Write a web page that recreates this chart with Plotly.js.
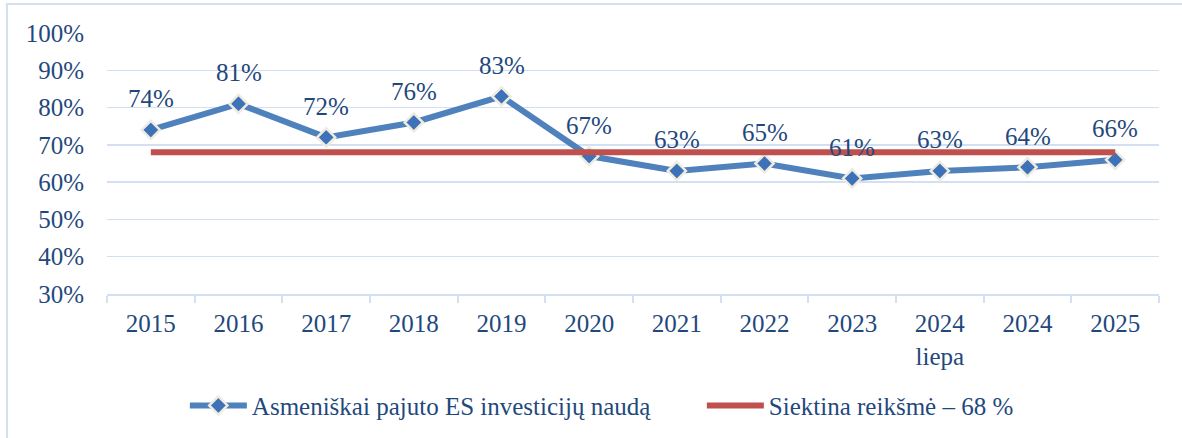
<!DOCTYPE html>
<html>
<head>
<meta charset="utf-8">
<script src="https://cdn.plot.ly/plotly-3.0.1.min.js"></script>
<style>
html,body{margin:0;padding:0;background:#fff;}
#chart{width:1182px;height:438px;}
</style>
</head>
<body>
<div id="chart"></div>
<script>
const categories = ["2015","2016","2017","2018","2019","2020","2021","2022","2023","2024<br>liepa","2024","2025"];
const feltValues = [0.74,0.81,0.72,0.76,0.83,0.67,0.63,0.65,0.61,0.63,0.64,0.66];
const targetValues = [0.68,0.68,0.68,0.68,0.68,0.68,0.68,0.68,0.68,0.68,0.68,0.68];
const labels = ["74%","81%","72%","76%","83%","67%","63%","65%","61%","63%","64%","66%"];
const seriesNames = ["Asmeniškai pajuto ES investicijų naudą","Siektina reikšmė – 68 %"];
const yTickVals = [0.3,0.4,0.5,0.6,0.7,0.8,0.9,1.0];

const FONT = "Liberation Serif, Cambria, serif";
const TXT = "#1f497d";
const idx = categories.map((c, i) => i);

const blue = {
  x: idx, y: feltValues, type: "scatter", mode: "lines+markers",
  name: seriesNames[0], legendrank: 1,
  line: {color: "#4f81bd", width: 6},
  marker: {symbol: "diamond", size: 14, color: "#3d72b8", line: {color: "#eeece1", width: 2.5}},
  hoverinfo: "skip"
};
const red = {
  x: idx, y: targetValues, type: "scatter", mode: "lines",
  name: seriesNames[1], legendrank: 2,
  line: {color: "#c0504d", width: 6},
  hoverinfo: "skip"
};
const data = [blue, red];

const annotations = idx.map(i => ({
  x: i, y: feltValues[i], xref: "x", yref: "y",
  text: labels[i], showarrow: false, yshift: 31, yanchor: "middle",
  font: {family: FONT, size: 25, color: TXT}
}));

const layout = {
  width: 1182, height: 438,
  margin: {l: 107, r: 23, t: 33, b: 144, autoexpand: false},
  paper_bgcolor: "#ffffff", plot_bgcolor: "#ffffff",
  font: {family: FONT, size: 25, color: TXT},
  showlegend: true,
  legend: {
    orientation: "h", x: 0.074, xanchor: "left", y: -0.34, yanchor: "top",
    font: {family: FONT, size: 25, color: TXT},
    traceorder: "normal", entrywidth: 445, entrywidthmode: "pixels", itemwidth: 57,
    bgcolor: "rgba(0,0,0,0)"
  },
  xaxis: {
    type: "linear", range: [-0.5, 11.5],
    tickmode: "array", tickvals: idx, ticktext: categories, ticks: "", ticklabelstandoff: 6,
    minor: {tickmode: "linear", tick0: -0.5, dtick: 1, ticks: "outside", ticklen: 7, tickcolor: "#d3e0f2", tickwidth: 2, showgrid: false},
    showline: true, linecolor: "#d3e0f2", linewidth: 2,
    showgrid: false, zeroline: false, tickangle: 0,
    tickfont: {family: FONT, size: 25, color: TXT},
    fixedrange: true
  },
  yaxis: {
    range: [0.3, 1.0], tickvals: yTickVals, tickformat: ".0%",
    showgrid: true, gridcolor: "#d3e0f2", gridwidth: 1.5,
    zeroline: false, showline: false, ticks: "", ticklabelstandoff: 22,
    tickfont: {family: FONT, size: 25, color: TXT},
    fixedrange: true
  },
  shapes: [{
    type: "rect", xref: "paper", yref: "paper",
    x0: -0.0951, x1: 1.06, y0: -0.6, y1: 1.111,
    line: {color: "#d3e0f2", width: 2}, fillcolor: "rgba(0,0,0,0)", layer: "below"
  }],
  annotations: annotations
};

Plotly.newPlot("chart", data, layout, {staticPlot: true, displayModeBar: false});
</script>
</body>
</html>
